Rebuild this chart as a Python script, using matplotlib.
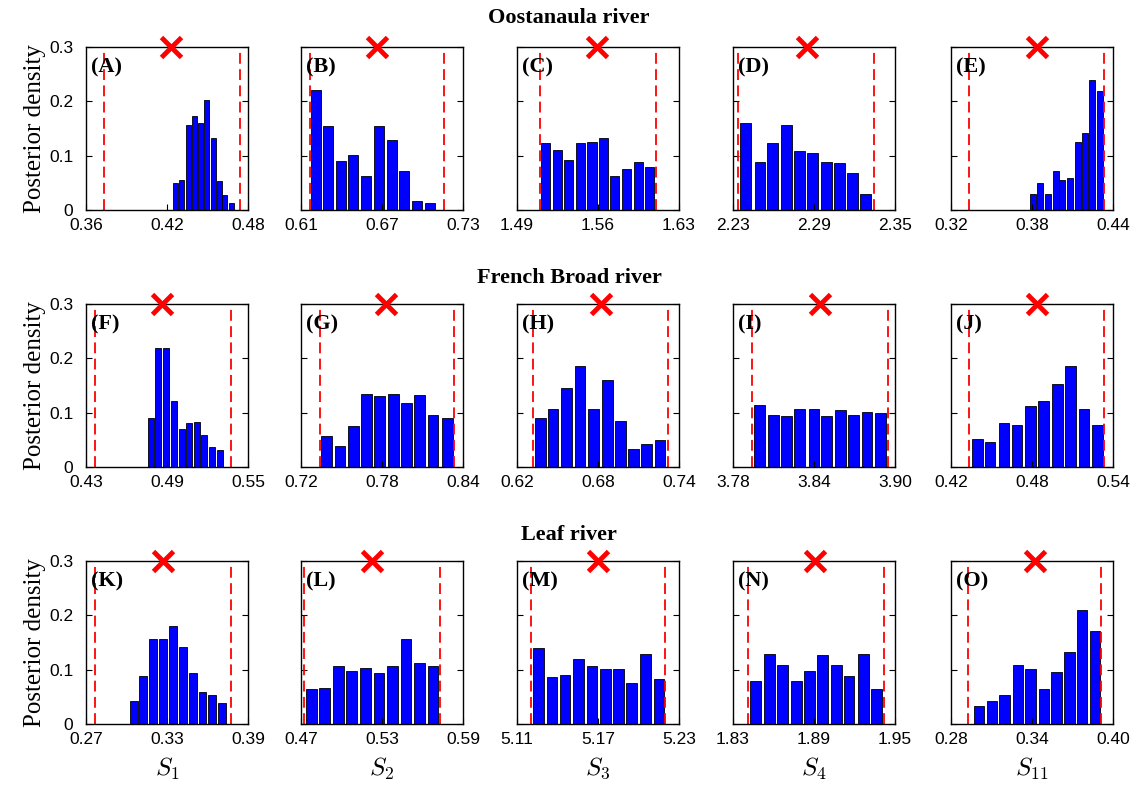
import numpy as np
import matplotlib
matplotlib.use("Agg")
import matplotlib.pyplot as plt

plt.rcParams['font.family'] = ['Liberation Sans', 'DejaVu Sans']
plt.rcParams['mathtext.fontset'] = 'cm'

# ---- data ----
rivers = ["Oostanaula river", "French Broad river", "Leaf river"]
panel_labels = ["(A)", "(B)", "(C)", "(D)", "(E)",
                "(F)", "(G)", "(H)", "(I)", "(J)",
                "(K)", "(L)", "(M)", "(N)", "(O)"]
param_labels = [r"$S_1$", r"$S_2$", r"$S_3$", r"$S_4$", r"$S_{11}$"]

# x-axis ticks per panel (row-major)
xticks = [
    [0.36, 0.42, 0.48], [0.61, 0.67, 0.73], [1.49, 1.56, 1.63], [2.23, 2.29, 2.35], [0.32, 0.38, 0.44],
    [0.43, 0.49, 0.55], [0.72, 0.78, 0.84], [0.62, 0.68, 0.74], [3.78, 3.84, 3.90], [0.42, 0.48, 0.54],
    [0.27, 0.33, 0.39], [0.47, 0.53, 0.59], [5.11, 5.17, 5.23], [1.83, 1.89, 1.95], [0.28, 0.34, 0.40],
]

# bin centres
centers = [
    [0.4262, 0.4309, 0.4356, 0.4403, 0.4449, 0.4495, 0.4542, 0.4586, 0.4628, 0.4676],
    [0.6211, 0.6303, 0.6397, 0.6488, 0.6584, 0.6680, 0.6771, 0.6864, 0.6960, 0.7054],
    [1.5147, 1.5253, 1.5347, 1.5448, 1.5548, 1.5645, 1.5743, 1.5846, 1.5947, 1.6045],
    [2.2393, 2.2500, 2.2591, 2.2694, 2.2794, 2.2891, 2.2994, 2.3088, 2.3185, 2.3284],
    [0.3805, 0.3859, 0.3916, 0.3975, 0.4024, 0.4078, 0.4139, 0.4191, 0.4248, 0.4307],
    [0.4780, 0.4835, 0.4892, 0.4950, 0.5008, 0.5064, 0.5122, 0.5177, 0.5234, 0.5291],
    [0.7390, 0.7488, 0.7587, 0.7685, 0.7784, 0.7883, 0.7982, 0.8078, 0.8178, 0.8283],
    [0.6372, 0.6466, 0.6569, 0.6666, 0.6767, 0.6868, 0.6965, 0.7064, 0.7160, 0.7260],
    [3.7996, 3.8099, 3.8197, 3.8295, 3.8400, 3.8493, 3.8594, 3.8694, 3.8792, 3.8895],
    [0.4394, 0.4490, 0.4593, 0.4689, 0.4790, 0.4886, 0.4987, 0.5085, 0.5186, 0.5284],
    [0.3056, 0.3123, 0.3197, 0.3268, 0.3346, 0.3418, 0.3490, 0.3563, 0.3635, 0.3706],
    [0.4776, 0.4876, 0.4976, 0.5076, 0.5176, 0.5278, 0.5376, 0.5478, 0.5580, 0.5678],
    [5.1257, 5.1360, 5.1455, 5.1558, 5.1655, 5.1756, 5.1853, 5.1948, 5.2050, 5.2151],
    [1.8465, 1.8568, 1.8666, 1.8769, 1.8866, 1.8964, 1.9064, 1.9159, 1.9264, 1.9364],
    [0.3006, 0.3104, 0.3196, 0.3297, 0.3389, 0.3490, 0.3582, 0.3677, 0.3772, 0.3867],
]

# posterior densities
heights = [
    [0.050, 0.055, 0.157, 0.173, 0.160, 0.202, 0.132, 0.053, 0.028, 0.012],
    [0.221, 0.154, 0.091, 0.102, 0.063, 0.154, 0.128, 0.071, 0.017, 0.012],
    [0.123, 0.110, 0.092, 0.123, 0.125, 0.133, 0.063, 0.076, 0.089, 0.079],
    [0.160, 0.089, 0.123, 0.157, 0.108, 0.105, 0.089, 0.087, 0.069, 0.030],
    [0.030, 0.050, 0.030, 0.071, 0.055, 0.059, 0.126, 0.141, 0.240, 0.219],
    [0.091, 0.219, 0.219, 0.122, 0.070, 0.081, 0.083, 0.059, 0.036, 0.031],
    [0.057, 0.039, 0.075, 0.135, 0.130, 0.135, 0.117, 0.133, 0.096, 0.091],
    [0.091, 0.107, 0.146, 0.186, 0.107, 0.161, 0.085, 0.033, 0.043, 0.049],
    [0.114, 0.096, 0.094, 0.107, 0.107, 0.094, 0.105, 0.096, 0.101, 0.099],
    [0.052, 0.046, 0.081, 0.078, 0.113, 0.122, 0.152, 0.186, 0.107, 0.078],
    [0.043, 0.088, 0.156, 0.157, 0.181, 0.142, 0.093, 0.059, 0.054, 0.039],
    [0.064, 0.067, 0.106, 0.098, 0.103, 0.093, 0.106, 0.156, 0.113, 0.106],
    [0.140, 0.086, 0.090, 0.119, 0.106, 0.101, 0.101, 0.075, 0.129, 0.083],
    [0.080, 0.129, 0.108, 0.080, 0.098, 0.127, 0.108, 0.088, 0.129, 0.064],
    [0.034, 0.042, 0.054, 0.108, 0.101, 0.065, 0.096, 0.132, 0.209, 0.171],
]

# prior bounds (dashed lines) and true value (cross)
bounds = [
    [0.3734, 0.4740], [0.6164, 0.7162], [1.5095, 1.6099], [2.2339, 2.3344], [0.3333, 0.4336],
    [0.4370, 0.5375], [0.7338, 0.8334], [0.6318, 0.7321], [3.7942, 3.8951], [0.4333, 0.5336],
    [0.2770, 0.3771], [0.4722, 0.5732], [5.1203, 5.2197], [1.8411, 1.9419], [0.2925, 0.3913],
]
true_vals = [0.4232, 0.6660, 1.5588, 2.2849, 0.3834,
             0.4865, 0.7833, 0.6822, 3.8444, 0.4834,
             0.3273, 0.5224, 5.1699, 1.8909, 0.3419]

yticks = [0, 0.1, 0.2, 0.3]
ytick_labels = ["0", "0.1", "0.2", "0.3"]

# ---- figure ----
W, H = 1138, 786
fig = plt.figure(figsize=(W / 100, H / 100), dpi=100)

col_left = [86, 301, 517, 733, 951]
row_top = [47, 304, 561]
ax_w, ax_h = 162, 163
title_y = [18, 278, 535]

serif = ['Liberation Serif', 'DejaVu Serif']

for r in range(3):
    fig.text(0.5, 1 - title_y[r] / H, rivers[r], ha='center', va='center',
             family=serif, fontweight='bold', fontsize=16)
    for c in range(5):
        k = r * 5 + c
        ax = fig.add_axes([col_left[c] / W, 1 - (row_top[r] + ax_h) / H, ax_w / W, ax_h / H])
        xs = np.array(centers[k])
        w = 0.8 * np.diff(xs).mean()
        ax.bar(xs, heights[k], width=w, color='#0000ff', edgecolor='black', linewidth=0.6)
        for b in bounds[k]:
            ax.axvline(b, color='red', linestyle=(0, (6, 3)), linewidth=1.3)
        ax.plot([true_vals[k]], [0.3], marker='x', color='red', markersize=15,
                markeredgewidth=3.5, clip_on=False, zorder=10)
        ax.set_xlim(xticks[k][0], xticks[k][-1])
        ax.set_ylim(0, 0.3)
        ax.set_xticks(xticks[k])
        ax.set_xticklabels(["%.2f" % v for v in xticks[k]])
        ax.set_yticks(yticks)
        if c == 0:
            ax.set_yticklabels(ytick_labels)
            ax.set_ylabel("Posterior density", family=serif, fontsize=18, labelpad=2)
        else:
            ax.set_yticklabels([])
        ax.tick_params(direction='in', length=4, width=0.8, labelsize=12.5, right=True)
        ax.tick_params(axis='x', pad=6)
        ax.tick_params(axis='y', pad=9)
        for s in ax.spines.values():
            s.set_linewidth(1.0)
        ax.text(0.03, 0.935, panel_labels[k], transform=ax.transAxes, ha='left', va='top',
                family=serif, fontweight='bold', fontsize=16)
        if r == 2:
            ax.set_xlabel(param_labels[c], fontsize=18, labelpad=6)

fig.savefig("out.png", dpi=100)
